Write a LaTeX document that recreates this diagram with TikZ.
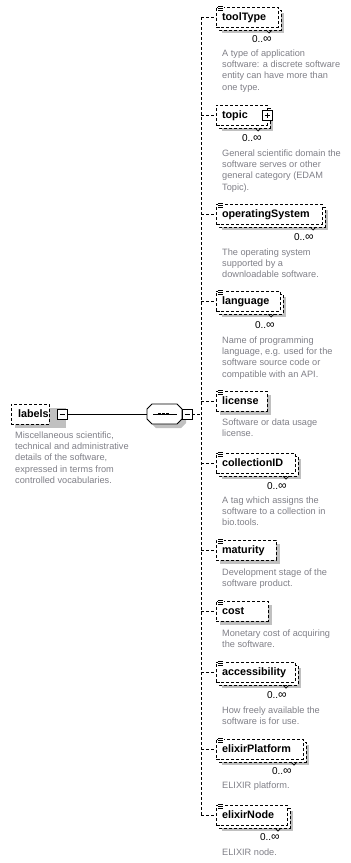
\documentclass[tikz,border=0pt]{standalone}
\usepackage{fontspec}
\setmainfont{Liberation Sans}
\definecolor{shadowgray}{RGB}{192,192,192}
\definecolor{descgray}{RGB}{128,128,136}

\tikzset{
  optline/.style={line width=0.9pt, dash pattern=on 3pt off 2pt},
  elem/.style={draw, optline, fill=white, anchor=west, minimum height=20pt,
    inner xsep=6pt, inner ysep=0pt, outer sep=0pt, align=left,
    font=\fontsize{10.8}{13}\selectfont\bfseries,
    text height=7.8pt, text depth=0pt},
  mult/.style={font=\fontsize{10}{12}\selectfont, inner sep=0pt, anchor=base east},
  desc/.style={font=\fontsize{9.2}{11.3}\selectfont, text=descgray,
    inner sep=0pt, anchor=north west, align=left},
  toggle/.style={draw, fill=white, line width=0.9pt, minimum size=10pt,
    inner sep=0pt, outer sep=0pt},
  seqbox/.style={minimum width=35pt, minimum height=20pt, inner sep=0pt, outer sep=0pt},
  connector/.style={line width=0.9pt},
}

% occurrence range "0 to unbounded"
\newcommand\unbounded{0..{\fontsize{12}{12}\selectfont ∞}}
% octagon outline of a compositor, given its centre
\newcommand\octagon[3]{% #1 style, #2 x, #3 y
  \path[#1] (#2-12.5,#3-10) -- (#2+12.5,#3-10) -- (#2+17.5,#3-5) -- (#2+17.5,#3+5)
    -- (#2+12.5,#3+10) -- (#2-12.5,#3+10) -- (#2-17.5,#3+5) -- (#2-17.5,#3-5) -- cycle;
}
% element that may occur several times: shadow, back copy, front box
\newcommand\stackedelem[4]{%
  \pgfmathsetmacro\tw{#3-228}%
  \fill[shadowgray] (222,#2-4) rectangle (#3+6,#2+16);
  \draw[optline,fill=white] (219,#2-7) rectangle (#3+3,#2+13);
  \draw[line width=0.7pt] (#3-12,#2+13) -- (#3-9,#2+16) -- (#3-6,#2+13);
  \node[elem, text width=\tw pt] (#1) at (216,#2) {#4};
}
% element that occurs at most once
\newcommand\singleelem[4]{%
  \pgfmathsetmacro\tw{#3-228}%
  \fill[shadowgray] (220,#2-6) rectangle (#3+4,#2+14);
  \node[elem, text width=\tw pt] (#1) at (216,#2) {#4};
}
% documentation mark at the upper left corner of a box
\newcommand\docicon[1]{%
  \fill[white] (217.5,#1-12) rectangle (223.5,#1-6);
  \draw[line width=0.7pt] (218,#1-11) -- (223,#1-11)
    (218,#1-9) -- (223,#1-9) (218,#1-7) -- (223,#1-7);
}
% branch from the spine to an element
\newcommand\branch[1]{\draw[optline] (spine-top |- #1.west) -- (#1.west);}

\begin{document}
\begin{tikzpicture}[x=1pt,y=-1pt]
\useasboundingbox (0,0) rectangle (351,863);
\fill[white] (0,0) rectangle (351,863);

% ---- root element ----
\fill[shadowgray] (15,408) rectangle (66,428);
\node[elem, text width=24pt, inner xsep=7pt] (labels) at (11,414) {labels};
\fill[black] (58,410) rectangle (68,420);
\node[toggle] (labels-toggle) at (62,414) {};
\draw[line width=0.9pt] (59.5,414) -- (64.5,414);
\node[desc] (labels-d) at (15,430) {\rule{0pt}{8pt}Miscellaneous scientific,\\
  technical and administrative\\ details of the software,\\
  expressed in terms from\\ controlled vocabularies.};

% ---- sequence compositor ----
\octagon{fill=shadowgray}{168.5}{418}
\octagon{draw, fill=white, line width=0.9pt}{164.5}{414}
\node[seqbox] (seq) at (164.5,414) {};
\draw[line width=0.9pt] (153,414) -- (176.5,414);
\foreach \dx in {-4,0,4} \fill (163.5+\dx-1.3,412.7) rectangle +(2.6,2.6);
\fill[black] (183,410) rectangle (193,420);
\node[toggle] (seq-toggle) at (187,414) {};
\draw[line width=0.9pt] (184.5,414) -- (189.5,414);

\draw[connector] (labels-toggle.east) -- (seq.west);

% ---- child elements ----
\stackedelem{toolType}{17}{278}{toolType}
\docicon{17}
\node[mult] (toolType-m) at (272,42.6) {\unbounded};
\node[desc] (toolType-d) at (222,48) {\rule{0pt}{8pt}A type of application\\
  software: a discrete software\\ entity can have more than\\ one type.};

\stackedelem{topic}{115}{267}{topic}
\fill[black] (263,111) rectangle (273,121);
\node[toggle] (topic-toggle) at (267,115) {};
\draw[line width=0.9pt] (264.5,115) -- (269.5,115) (267,112.5) -- (267,117.5);
\node[mult] (topic-m) at (262,141.6) {\unbounded};
\node[desc] (topic-d) at (222,148) {\rule{0pt}{8pt}General scientific domain the\\
  software serves or other\\ general category (EDAM\\ Topic).};

\stackedelem{operatingSystem}{214}{322}{operatingSystem}
\docicon{214}
\node[mult] (operatingSystem-m) at (314,240.6) {\unbounded};
\node[desc] (operatingSystem-d) at (222,247) {\rule{0pt}{8pt}The operating system\\
  supported by a\\ downloadable software.};

\stackedelem{language}{301}{280}{language}
\docicon{301}
\node[mult] (language-m) at (275,328.6) {\unbounded};
\node[desc] (language-d) at (222,335) {\rule{0pt}{8pt}Name of programming\\
  language, e.g. used for the\\ software source code or\\ compatible with an API.};

\singleelem{license}{401}{267}{license}
\docicon{401}
\node[desc] (license-d) at (222,417) {\rule{0pt}{8pt}Software or data usage\\ license.};

\stackedelem{collectionID}{463}{295}{collectionID}
\docicon{463}
\node[mult] (collectionID-m) at (287,489.6) {\unbounded};
\node[desc] (collectionID-d) at (222,495) {\rule{0pt}{8pt}A tag which assigns the\\
  software to a collection in\\ bio.tools.};

\singleelem{maturity}{550}{276}{maturity}
\docicon{550}
\node[desc] (maturity-d) at (222,567) {\rule{0pt}{8pt}Development stage of the\\ software product.};

\singleelem{cost}{611}{268}{cost}
\docicon{611}
\node[desc] (cost-d) at (222,628) {\rule{0pt}{8pt}Monetary cost of acquiring\\ the software.};

\stackedelem{accessibility}{672}{295}{accessibility}
\docicon{672}
\node[mult] (accessibility-m) at (287,698.6) {\unbounded};
\node[desc] (accessibility-d) at (222,705) {\rule{0pt}{8pt}How freely available the\\
  software is for use.};

\stackedelem{elixirPlatform}{749}{303}{elixirPlatform}
\docicon{749}
\node[mult] (elixirPlatform-m) at (292,774.6) {\unbounded};
\node[desc] (elixirPlatform-d) at (222,780) {\rule{0pt}{8pt}ELIXIR platform.};

\stackedelem{elixirNode}{815}{287}{elixirNode}
\docicon{815}
\node[mult] (elixirNode-m) at (280,840.6) {\unbounded};
\node[desc] (elixirNode-d) at (222,847) {\rule{0pt}{8pt}ELIXIR node.};

% ---- spine and branches ----
\coordinate (spine-top) at (201,17);
\coordinate (spine-bot) at (201,815);
\draw[optline] (spine-top) -- (spine-bot);
\draw[optline] (seq-toggle.east) -- (spine-top |- seq-toggle.east);
\foreach \e in {toolType,topic,operatingSystem,language,license,collectionID,
  maturity,cost,accessibility,elixirPlatform,elixirNode} {\branch{\e}}
\end{tikzpicture}
\end{document}
